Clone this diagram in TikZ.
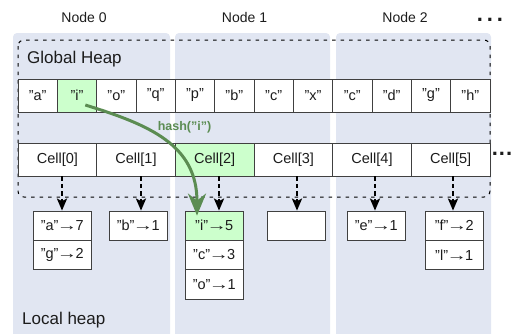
\documentclass[tikz,border=0pt]{standalone}
\usepackage{fontspec}
\setmainfont{Liberation Sans}
\usetikzlibrary{arrows.meta}
\definecolor{panel}{HTML}{E1E6F2}
\definecolor{hl}{HTML}{CCFFCC}
\definecolor{garrow}{HTML}{5B8C52}
\definecolor{ink}{HTML}{1C1C1C}
\newcommand\karr{\kern-1.6pt\scalebox{1.4}[1]{→}\kern-1.6pt}
\begin{document}
\begin{tikzpicture}[x=1pt,y=-1pt,
  every node/.style={text=ink},
  panelbox/.style={fill=panel, rounded corners=4pt, draw=none},
  frame/.style={draw=black, line width=1pt, dash pattern=on 3.5pt off 5pt, rounded corners=6pt},
  hcell/.style={draw=black!75, fill=white, line width=0.8pt, minimum width=39.33pt, minimum height=33pt, inner sep=0pt, font=\fontsize{14.5}{16}\selectfont},
  ccell/.style={draw=black!75, fill=white, line width=0.8pt, minimum width=78.67pt, minimum height=33pt, inner sep=0pt, font=\fontsize{14.5}{16}\selectfont},
  kv/.style={draw=black!75, fill=white, line width=0.8pt, minimum width=58.5pt, minimum height=29.3pt, inner sep=0pt, font=\fontsize{14.5}{16}\selectfont},
  lbl/.style={font=\fontsize{14}{16}\selectfont, inner sep=0pt},
  biglbl/.style={font=\fontsize{17}{20}\selectfont, inner sep=0pt, anchor=base west},
  darr/.style={draw=black, line width=2.2pt, dash pattern=on 4.5pt off 3pt, -{Stealth[width=10pt,length=12pt,inset=2.5pt]}},
  garr/.style={draw=garrow, line width=3pt, -{Stealth[width=18pt,length=22pt,inset=7pt]}},
  dots/.style={font=\bfseries\fontsize{22}{22}\selectfont, inner sep=0pt, anchor=base}
]
\useasboundingbox (0,0) rectangle (511,333);
% panels
\path[panelbox] (13,33) rectangle (170,340);
\path[panelbox] (175,33) rectangle (330,340);
\path[panelbox] (336,33) rectangle (491,340);
% headings
\node[lbl] (n0) at (84,17) {Node 0};
\node[lbl] (n1) at (244.5,17) {Node 1};
\node[lbl] (n2) at (405,17) {Node 2};
\node[dots] (d1) at (490,21) {.\kern3.9pt.\kern3.9pt.};
\node[dots] (d2) at (502,155) {.\kern1pt.\kern1pt.};
% dashed frame
\draw[frame] (18,40) rectangle (490,197);
\node[biglbl] (gh) at (27,63) {Global Heap};
\node[biglbl] (lh) at (22,324) {Local heap};
% global heap cells
\foreach \t [count=\i from 0] in {a,i,o,q,p,b,c,x,c,d,g,h}{
  \node[hcell] (g\i) at ({18+39.333*(\i+0.5)},95.5) {"\t"};
}
\node[hcell, fill=hl] at (g1) {"i"};
% cell row
\foreach \i in {0,...,5}{
  \node[ccell] (c\i) at ({18+78.667*(\i+0.5)},159.5) {Cell[\i]};
}
\node[ccell, fill=hl] at (c2) {Cell[2]};
% local heap boxes
\node[kv] (k0a) at (62.25,225.65) {"a"\karr7};
\node[kv] (k0b) at (62.25,254.95) {"g"\karr2};
\node[kv] (k1a) at (138.25,225.65) {"b"\karr1};
\node[kv, fill=hl] (k2a) at (214.25,225.65) {"i"\karr5};
\node[kv] (k2b) at (214.25,254.95) {"c"\karr3};
\node[kv] (k2c) at (214.25,284.25) {"o"\karr1};
\node[kv] (k3a) at (296.25,225.65) {};
\node[kv] (k4a) at (376.25,225.65) {"e"\karr1};
\node[kv] (k5a) at (454.25,225.65) {"f"\karr2};
\node[kv] (k5b) at (454.25,254.95) {"l"\karr1};
% arrow columns
\coordinate (t0) at (62,0);
\coordinate (t1) at (141,0);
\coordinate (t2) at (219,0);
\coordinate (t3) at (297,0);
\coordinate (t4) at (375,0);
\coordinate (t5) at (453,0);
\draw[darr] (c0.south -| t0) -- (k0a.north -| t0);
\draw[darr] (c1.south -| t1) -- (k1a.north -| t1);
\draw[darr] (c2.south -| t2) -- (k2a.north -| t2);
\draw[darr] (c3.south -| t3) -- (k3a.north -| t3);
\draw[darr] (c4.south -| t4) -- (k4a.north -| t4);
\draw[darr] (c5.south -| t5) -- (k5a.north -| t5);
% hash arrow
\draw[garr] ([xshift=8.3pt,yshift=-9.5pt]g1.center) .. controls (150,125) and (197,145) .. ([xshift=-17.25pt,yshift=-5pt]k2a.north);
\node[font=\bfseries\fontsize{12.5}{14}\selectfont, text=garrow, inner sep=0pt] (hs) at (184.5,127) {hash("i")};
\end{tikzpicture}
\end{document}
